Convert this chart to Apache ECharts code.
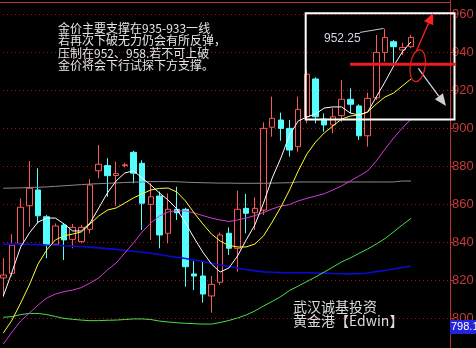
<!DOCTYPE html>
<html>
<head>
<meta charset="utf-8">
<script src="https://cdn.jsdelivr.net/npm/echarts@6.0.0/dist/echarts.min.js"></script>
<style>
html,body{margin:0;padding:0;background:#000;}
#c{width:476px;height:348px;}
</style>
</head>
<body>
<div id="c"></div>
<script>
// ---------- DATA ----------
const categories = [];
for (let i = 1; i <= 52; i++) categories.push(String(i)); // 48 sessions + 4 blank slots on the right

const opens  = [821.1, 823.5, 839.3, 859.1, 867.4, 853.3, 838.8, 848.9, 841.4, 840.2, 846.7, 877.5, 880.2, 875.0, 880.2, 887.2, 881.4, 859.8, 864.2, 844.6, 857.2, 857.2, 823.2, 822.1, 811.6, 818.8, 844.6, 836.7, 857.7, 855.4, 856.8, 900.4, 904.2, 899.8, 890.2, 905.9, 925.8, 904.7, 901.6, 906.5, 915.1, 911.6, 895.9, 915.9, 939.8, 945.4, 941.1, 942.8];
const closes = [822.6, 838.4, 858.3, 868.3, 853.8, 838.4, 848.4, 841.1, 847.7, 847.7, 870.0, 880.9, 874.9, 876.0, 880.6, 876.2, 860.4, 863.8, 843.7, 857.2, 855.4, 827.0, 822.1, 812.6, 817.7, 843.7, 836.7, 857.2, 855.1, 857.7, 899.8, 905.1, 899.8, 888.4, 909.8, 928.3, 905.9, 901.6, 905.9, 915.1, 912.5, 895.9, 915.6, 939.8, 947.7, 942.8, 942.4, 947.7];
const lows   = [811.1, 822.0, 838.0, 848.1, 849.8, 831.4, 838.4, 830.5, 836.7, 839.3, 844.6, 873.5, 863.8, 859.0, 879.3, 870.9, 846.3, 841.1, 836.7, 839.3, 851.6, 816.5, 814.7, 808.1, 802.8, 817.4, 833.2, 824.4, 844.6, 846.3, 854.2, 895.4, 893.3, 884.9, 887.5, 902.5, 902.5, 898.1, 897.2, 903.3, 907.7, 893.7, 890.2, 914.7, 934.9, 934.0, 938.4, 942.0];
const highs  = [831.6, 844.2, 863.0, 882.6, 878.8, 854.2, 849.8, 850.0, 849.5, 849.0, 873.0, 891.1, 884.1, 882.3, 881.7, 888.0, 883.0, 870.9, 866.5, 865.6, 869.1, 858.0, 830.0, 829.6, 822.1, 845.0, 847.7, 867.0, 865.3, 863.5, 903.0, 916.5, 908.1, 904.2, 916.5, 930.5, 926.7, 907.7, 910.4, 925.3, 920.9, 912.5, 918.6, 949.0, 952.25, 946.3, 944.9, 949.0];

const maWhite   = [811.6, 824.2, 837.4, 844.7, 850.5, 852.6, 852.6, 849.5, 845.8, 845.8, 850.0, 857.9, 865.8, 872.1, 876.3, 877.5, 873.7, 870.0, 865.8, 862.1, 857.4, 850.0, 842.1, 834.7, 828.4, 824.2, 826.3, 832.6, 841.1, 849.0, 860.5, 873.7, 884.2, 896.3, 903.7, 905.8, 907.4, 910.5, 911.1, 911.1, 907.9, 906.8, 908.4, 916.3, 924.2, 932.6, 940.0, 945.3];
const maYellow  = [792.1, 798.9, 807.9, 817.4, 828.4, 835.8, 841.1, 843.2, 844.2, 845.3, 849.5, 853.7, 856.8, 857.9, 860.5, 863.2, 865.3, 867.4, 868.2, 868.4, 866.3, 861.6, 855.3, 849.5, 844.2, 840.5, 838.2, 837.4, 837.4, 838.9, 843.2, 850.5, 858.4, 867.4, 877.4, 886.3, 892.6, 897.4, 901.1, 904.7, 906.3, 906.8, 908.4, 912.6, 916.3, 918.4, 922.1, 925.8];
const maMagenta = [786.3, 792.6, 798.4, 802.6, 806.8, 810.5, 812.6, 813.9, 814.7, 816.0, 818.4, 821.1, 825.3, 828.9, 834.2, 839.5, 845.3, 850.0, 853.7, 855.8, 856.5, 856.3, 855.3, 853.9, 852.6, 851.6, 850.8, 851.6, 852.6, 853.9, 855.5, 857.4, 858.9, 859.7, 861.6, 863.0, 864.2, 865.4, 867.4, 869.5, 872.1, 874.7, 877.4, 882.6, 888.9, 894.7, 900.0, 904.7];
const maGray    = [868.3, 868.4, 868.5, 868.7, 868.8, 869.0, 869.3, 869.6, 869.9, 870.2, 870.5, 870.7, 870.9, 871.1, 871.3, 871.5, 871.6, 871.8, 871.8, 871.8, 871.7, 871.5, 871.3, 871.2, 871.1, 871.0, 871.0, 870.9, 870.9, 870.9, 870.9, 871.0, 871.1, 871.2, 871.6, 871.6, 871.6, 871.6, 871.6, 871.6, 871.6, 871.6, 871.6, 871.6, 871.6, 871.6, 872.1, 872.1];
const maBlue    = [838.9, 838.9, 838.9, 838.8, 838.6, 838.4, 838.3, 838.0, 837.8, 837.6, 837.3, 836.9, 836.5, 836.1, 835.5, 835.1, 834.6, 834.1, 833.4, 832.6, 831.9, 831.3, 830.5, 829.7, 828.8, 827.9, 827.1, 826.3, 825.5, 824.8, 824.3, 824.1, 823.9, 823.8, 823.8, 823.8, 823.7, 823.6, 823.4, 823.3, 823.2, 823.3, 823.7, 824.4, 825.0, 825.8, 826.6, 827.4];
const maGreen   = [800.4, 800.7, 801.8, 802.4, 802.4, 801.8, 800.8, 799.8, 799.3, 798.9, 798.6, 798.6, 798.8, 798.9, 799.2, 799.5, 799.5, 799.2, 798.4, 797.9, 797.5, 797.2, 797.0, 796.8, 796.8, 797.6, 798.7, 800.0, 801.6, 803.7, 806.3, 808.7, 811.3, 814.5, 816.8, 819.2, 821.6, 824.2, 826.8, 829.5, 831.6, 834.0, 836.3, 838.9, 841.8, 845.3, 849.0, 852.4];

const yMin = 780, yMax = 980, yStep = 20;   // tick labels 800 ... 960
const topBorderValue = 966.3;
const supportLevel = 933.5;
const cursorPrice = 798.1;
const peakIndex = 44;

const noteLines = [
  '金价主要支撑在935-933一线',
  '若再次下破无力仍会有所反弹，',
  '压制在952、958.若不可上破',
  '金价将会下行试探下方支撑。'
];
const signLines = ['武汉诚基投资', '黄金港【Edwin】'];

// ---------- CHART ----------
const candles = opens.map((o, i) => [o, closes[i], lows[i], highs[i]]);
const chart = echarts.init(document.getElementById('c'), null, {renderer: 'canvas'});

function maSeries(data, color, w) {
  return {type: 'line', data: data, symbol: 'none', silent: true, smooth: false,
          lineStyle: {color: color, width: w || 1}, z: 3};
}

chart.setOption({
  backgroundColor: '#000',
  animation: false,
  grid: {left: -1, right: 26, top: -24, bottom: -8, containLabel: false, outerBoundsMode: 'none'},
  xAxis: {type: 'category', data: categories, boundaryGap: true, show: false},
  yAxis: {
    type: 'value', position: 'right', min: yMin, max: yMax, interval: yStep,
    axisLine: {show: true, lineStyle: {color: '#b83232', width: 1}},
    axisTick: {show: true, length: 3, lineStyle: {color: '#b83232'}},
    axisLabel: {color: '#c83a3a', fontSize: 13, fontFamily: 'Liberation Sans', margin: 2},
    splitLine: {show: true, lineStyle: {color: '#a81616', type: [1, 3], width: 1}}
  },
  series: [
    {
      type: 'candlestick', data: candles, barWidth: 6, z: 2,
      itemStyle: {color: '#000', color0: '#54fcfc', borderColor: '#f85858', borderColor0: '#54fcfc', borderWidth: 1},
      markLine: {
        silent: true, symbol: 'none', label: {show: false},
        lineStyle: {color: '#b83232', width: 1, type: 'solid'},
        data: [{yAxis: topBorderValue}]
      }
    },
    maSeries(maGray, '#8a8a8a'),
    maSeries(maBlue, '#0a0ad2', 1.6),
    maSeries(maGreen, '#48e048'),
    maSeries(maMagenta, '#d838d8'),
    maSeries(maYellow, '#ffff30'),
    maSeries(maWhite, '#ffffff')
  ]
});

// ---------- ANNOTATIONS (anchored in data space) ----------
function px(i, v) {
  const a = chart.convertToPixel({gridIndex: 0}, [0, v]);
  const b = chart.convertToPixel({gridIndex: 0}, [1, v]);
  return [a[0] + (b[0] - a[0]) * i, a[1]];
}
function arrow(p0, p1, color, w, headLen, headW) {
  const dx = p1[0] - p0[0], dy = p1[1] - p0[1], L = Math.hypot(dx, dy);
  const ux = dx / L, uy = dy / L, nx = -uy, ny = ux;
  const bx = p1[0] - ux * headLen, by = p1[1] - uy * headLen;
  return [
    {type: 'line', z: 100, silent: true, shape: {x1: p0[0], y1: p0[1], x2: bx, y2: by}, style: {stroke: color, lineWidth: w}},
    {type: 'polygon', z: 100, silent: true, shape: {points: [[p1[0], p1[1]], [bx + nx * headW, by + ny * headW], [bx - nx * headW, by - ny * headW]]}, style: {fill: color}}
  ];
}

const b0 = px(34.86, 960.4), b1 = px(52.02, 904.5);
const lblP = px(36.97, 946.8);
const ld0 = px(41.1, 950.3), ld1 = px(43.85, 952.4);
const s0 = px(39.97, supportLevel), s1 = px(52.16, supportLevel);
const ec = px(47.78, 932.8);
const tagY = px(0, cursorPrice)[1];
const axisX = px(51.5, cursorPrice)[0];

const g = [
  {type: 'rect', z: 100, silent: true, shape: {x: b0[0], y: b0[1], width: b1[0] - b0[0], height: b1[1] - b0[1]},
   style: {fill: 'none', stroke: '#ffffff', lineWidth: 2}},
  {type: 'line', z: 100, silent: true, shape: {x1: ld0[0], y1: ld0[1], x2: ld1[0], y2: ld1[1]}, style: {stroke: '#c8c8c8', lineWidth: 1}},
  {type: 'text', z: 100, silent: true, x: lblP[0], y: lblP[1],
   style: {text: highs[peakIndex].toFixed(2), fill: '#d4d4e4', fontSize: 12, fontFamily: 'Liberation Sans', verticalAlign: 'middle', align: 'left'}},
  {type: 'line', z: 101, silent: true, shape: {x1: s0[0], y1: s0[1], x2: s1[0], y2: s1[1]}, style: {stroke: '#ee1c1c', lineWidth: 3}},
  {type: 'ellipse', z: 101, silent: true, x: ec[0], y: ec[1], rotation: -0.15, shape: {cx: 0, cy: 0, rx: 7.5, ry: 16},
   style: {fill: 'none', stroke: '#e01c1c', lineWidth: 1.3}},
  ...arrow(px(47.58, 940), px(49.54, 960.5), '#ff2020', 1.3, 11, 5),
  ...arrow(px(47.85, 931.4), px(51.04, 911.6), '#d0d0d0', 1.3, 12, 5),
  {type: 'text', z: 100, silent: true, x: 58, y: 22,
   style: {text: noteLines.join('\n'), fill: '#e6e6e6', fontSize: 12, fontFamily: '"Noto Sans CJK SC"', lineHeight: 12.4, verticalAlign: 'top', align: 'left'}},
  {type: 'text', z: 100, silent: true, x: 293, y: 300,
   style: {text: signLines.join('\n'), fill: '#dcdcdc', fontSize: 14, fontFamily: '"Noto Sans CJK SC"', lineHeight: 14, verticalAlign: 'top', align: 'left'}},
  {type: 'rect', z: 102, silent: true, shape: {x: axisX, y: tagY - 1.5, width: 40, height: 14}, style: {fill: '#2424dc'}},
  {type: 'text', z: 103, silent: true, x: axisX + 1, y: tagY + 5.5,
   style: {text: String(cursorPrice), fill: '#ffffff', fontSize: 11, fontFamily: 'Liberation Sans', verticalAlign: 'middle', align: 'left'}}
];
chart.setOption({graphic: g});
</script>
</body>
</html>
